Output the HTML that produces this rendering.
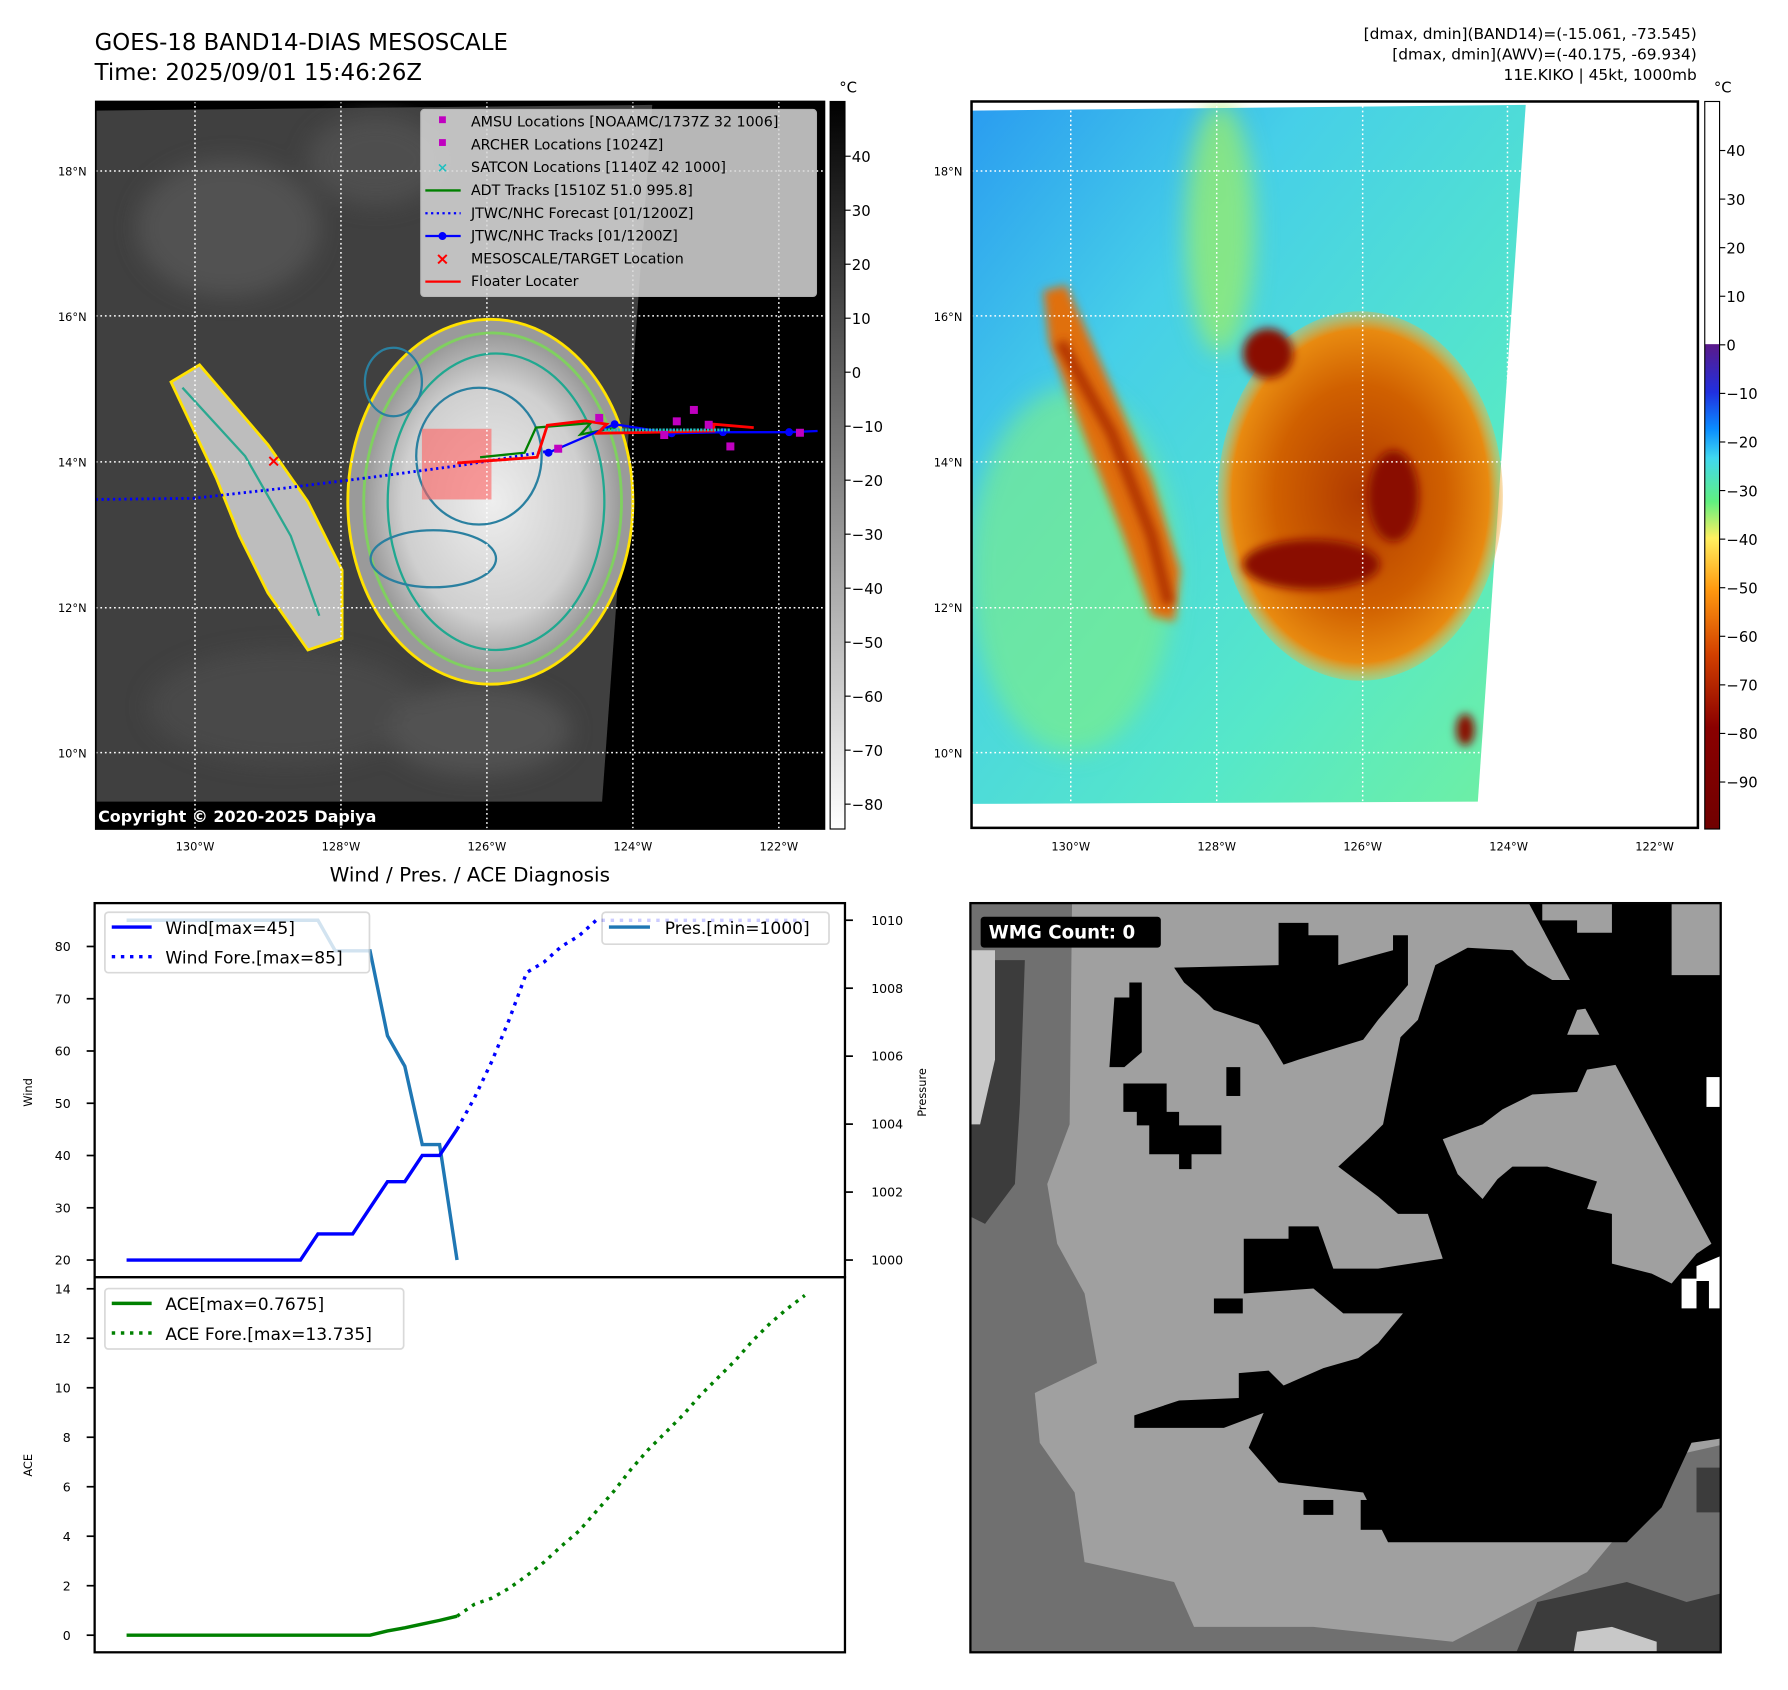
<!DOCTYPE html>
<html><head><meta charset="utf-8">
<style>
html,body{margin:0;padding:0;background:#fff;}
svg{display:block;font-family:"DejaVu Sans","Liberation Sans",sans-serif;}
</style></head>
<body>
<svg id="root" width="1788" height="1690" viewBox="0 0 1568 1482" preserveAspectRatio="xMinYMin meet" xmlns="http://www.w3.org/2000/svg">
<defs>
  <linearGradient id="gcbar" x1="0" y1="0" x2="0" y2="1">
    <stop offset="0" stop-color="#000"/><stop offset="1" stop-color="#fff"/>
  </linearGradient>
  <linearGradient id="jcbar" x1="0" y1="0" x2="0" y2="1">
    <stop offset="0" stop-color="#fff"/><stop offset="0.333" stop-color="#fff"/>
    <stop offset="0.334" stop-color="#5a1a8a"/><stop offset="0.40" stop-color="#2030e0"/>
    <stop offset="0.45" stop-color="#0a8cff"/><stop offset="0.49" stop-color="#40d8f0"/>
    <stop offset="0.55" stop-color="#60f080"/><stop offset="0.60" stop-color="#fff060"/>
    <stop offset="0.67" stop-color="#ff9a10"/><stop offset="0.76" stop-color="#d24000"/>
    <stop offset="0.86" stop-color="#8a0000"/><stop offset="1" stop-color="#700000"/>
  </linearGradient>
  <radialGradient id="cloud" cx="0.5" cy="0.5" r="0.5">
    <stop offset="0" stop-color="#eeeeee"/><stop offset="0.7" stop-color="#cfcfcf"/><stop offset="1" stop-color="#999"/>
  </radialGradient>
  <linearGradient id="skyR" x1="0" y1="0" x2="1" y2="1">
    <stop offset="0" stop-color="#2a9cf0"/><stop offset="0.3" stop-color="#46cfe8"/><stop offset="0.7" stop-color="#56e8c8"/><stop offset="1" stop-color="#70f0a0"/>
  </linearGradient>
  <radialGradient id="stormR" cx="0.5" cy="0.5" r="0.5">
    <stop offset="0" stop-color="#b03a00"/><stop offset="0.6" stop-color="#d06000"/><stop offset="0.9" stop-color="#e88a10"/><stop offset="1" stop-color="#f0b040" stop-opacity="0.4"/>
  </radialGradient>
  <filter id="blur4"><feGaussianBlur stdDeviation="4"/></filter>
  <filter id="blur10"><feGaussianBlur stdDeviation="10"/></filter>
  <clipPath id="clipL"><rect x="84" y="89" width="639" height="638"/></clipPath>
  <clipPath id="clipR"><rect x="852" y="89" width="637" height="637"/></clipPath>
  <clipPath id="clipW"><rect x="851" y="792" width="658" height="657"/></clipPath>
</defs>

<text x="83" y="44" font-size="20">GOES-18 BAND14-DIAS MESOSCALE</text>
<text x="83" y="70" font-size="20">Time: 2025/09/01 15:46:26Z</text>
<g font-size="13.5" text-anchor="end">
  <text x="1488" y="34">[dmax, dmin](BAND14)=(-15.061, -73.545)</text>
  <text x="1488" y="52">[dmax, dmin](AWV)=(-40.175, -69.934)</text>
  <text x="1488" y="70">11E.KIKO | 45kt, 1000mb</text>
</g>

<g>
  <rect x="84" y="89" width="639" height="638" fill="#000"/>
  <g clip-path="url(#clipL)">
    <polygon points="84,97 572,92 528,703 84,703" fill="#404040"/>
    <g filter="url(#blur10)" opacity="0.7">
      <ellipse cx="200" cy="200" rx="80" ry="60" fill="#5a5a5a"/>
      <ellipse cx="330" cy="140" rx="60" ry="40" fill="#555"/>
      <ellipse cx="250" cy="620" rx="120" ry="50" fill="#4d4d4d"/>
      <ellipse cx="420" cy="640" rx="80" ry="40" fill="#5a5a5a"/>
    </g>
    <polygon points="150,335 175,320 235,390 270,440 300,500 300,560 270,570 235,520 210,470 190,420" fill="#bdbdbd" stroke="#ffe200" stroke-width="2.5"/>
    <polyline points="160,340 215,400 255,470 280,540" fill="none" stroke="#2aa890" stroke-width="2"/>
    <ellipse cx="430" cy="440" rx="125" ry="160" fill="#9a9a9a" stroke="#ffe200" stroke-width="2.5"/>
    <ellipse cx="432" cy="440" rx="113" ry="148" fill="url(#cloud)" stroke="#80d060" stroke-width="2.5"/>
    <ellipse cx="435" cy="440" rx="95" ry="130" fill="none" stroke="#20a890" stroke-width="2"/>
    <ellipse cx="420" cy="400" rx="55" ry="60" fill="none" stroke="#2a80a0" stroke-width="2"/>
    <ellipse cx="380" cy="490" rx="55" ry="25" fill="none" stroke="#2a80a0" stroke-width="2"/>
    <ellipse cx="345" cy="335" rx="25" ry="30" fill="none" stroke="#2a80a0" stroke-width="2"/>
    <rect x="370" y="376" width="61" height="62" fill="#ff6060" opacity="0.6"/>
    <g stroke="#fff" stroke-width="1.3" stroke-dasharray="1.5,2.5">
      <line x1="171" y1="89" x2="171" y2="727"/><line x1="299" y1="89" x2="299" y2="727"/><line x1="427" y1="89" x2="427" y2="727"/><line x1="555" y1="89" x2="555" y2="727"/><line x1="683" y1="89" x2="683" y2="727"/>
      <line x1="84" y1="150" x2="723" y2="150"/><line x1="84" y1="277" x2="723" y2="277"/><line x1="84" y1="405" x2="723" y2="405"/><line x1="84" y1="533" x2="723" y2="533"/><line x1="84" y1="660" x2="723" y2="660"/>
    </g>
    <polyline points="84,438 170,437 250,428 330,418 405,408 485,395" fill="none" stroke="#0000ff" stroke-width="2.5" stroke-dasharray="2,3"/>
    <polyline points="421,401 460,397 470,375 518,371 509,381 540,375" fill="none" stroke="#008000" stroke-width="2"/>
    <polyline points="481,397 539,372 589,380 634,379 692,379 717,378" fill="none" stroke="#0000ff" stroke-width="2"/>
    <g fill="#0000ff"><circle cx="481" cy="397" r="3.5"/><circle cx="539" cy="372" r="3.5"/><circle cx="589" cy="380" r="3.5"/><circle cx="634" cy="379" r="3.5"/><circle cx="692" cy="379" r="3.5"/></g>
    <polyline points="401,406 471,401 480,373 513,369 532,372 524,380 626,378 626,372 661,375" fill="none" stroke="#ff0000" stroke-width="2.5"/>
    <line x1="530" y1="377" x2="640" y2="377" stroke="#20c0c0" stroke-width="2.5" stroke-dasharray="2,1"/>
    <g fill="#c000c0">
      <rect x="522" y="363" width="7" height="7"/><rect x="486" y="390" width="7" height="7"/><rect x="590" y="366" width="7" height="7"/><rect x="605" y="356" width="7" height="7"/><rect x="579" y="378" width="7" height="7"/><rect x="637" y="388" width="7" height="7"/><rect x="698" y="376" width="7" height="7"/><rect x="618" y="369" width="7" height="7"/>
    </g>
    <text x="240" y="409" font-size="15" fill="#ff0000" font-weight="bold" text-anchor="middle">×</text>
  </g>
  <rect x="84" y="89" width="639" height="638" fill="none" stroke="#000" stroke-width="1.5"/>
  <g font-size="12.5">
    <rect x="369" y="96" width="347" height="164" rx="3" fill="#d8d8d8" opacity="0.85" stroke="#ccc"/>
    <rect x="385" y="102" width="6" height="6" fill="#c000c0"/><text x="413" y="111">AMSU Locations [NOAAMC/1737Z 32 1006]</text>
    <rect x="385" y="122" width="6" height="6" fill="#c000c0"/><text x="413" y="131">ARCHER Locations [1024Z]</text>
    <text x="388" y="151" fill="#20c0c0" font-size="12" text-anchor="middle" font-weight="bold">×</text><text x="413" y="151">SATCON Locations [1140Z 42 1000]</text>
    <line x1="373" y1="167" x2="404" y2="167" stroke="#008000" stroke-width="2"/><text x="413" y="171">ADT Tracks [1510Z 51.0 995.8]</text>
    <line x1="373" y1="187" x2="404" y2="187" stroke="#0000ff" stroke-width="2" stroke-dasharray="2,3"/><text x="413" y="191">JTWC/NHC Forecast [01/1200Z]</text>
    <line x1="373" y1="207" x2="404" y2="207" stroke="#0000ff" stroke-width="2"/><circle cx="388" cy="207" r="3.5" fill="#0000ff"/><text x="413" y="211">JTWC/NHC Tracks [01/1200Z]</text>
    <text x="388" y="232" fill="#ff0000" font-size="15" text-anchor="middle" font-weight="bold">×</text><text x="413" y="231">MESOSCALE/TARGET Location</text>
    <line x1="373" y1="247" x2="404" y2="247" stroke="#ff0000" stroke-width="2"/><text x="413" y="251">Floater Locater</text>
  </g>
  <text x="86" y="721" font-size="14" font-weight="bold" fill="#fff">Copyright © 2020-2025 Dapiya</text>
</g>
<g font-size="13">
  <rect x="728" y="89" width="13" height="638" fill="url(#gcbar)" stroke="#000" stroke-width="1"/>
  <text x="736" y="81">°C</text>
  <g id="cbL"></g>
</g>

<g>
  <rect x="852" y="89" width="637" height="637" fill="#fff"/>
  <g clip-path="url(#clipR)">
    <polygon points="852,97 1338,92 1296,703 852,705" fill="url(#skyR)"/>
    <g filter="url(#blur10)">
      <ellipse cx="940" cy="500" rx="90" ry="160" fill="#80f080" opacity="0.6"/>
      <ellipse cx="1070" cy="200" rx="30" ry="110" fill="#a0f060" opacity="0.7"/>
    </g>
    <polygon points="915,255 935,250 975,340 1010,420 1035,500 1030,545 1010,540 985,470 950,380 920,300" fill="#e07010" filter="url(#blur4)"/>
    <polyline points="930,300 975,380 1010,470 1025,530" fill="none" stroke="#b03000" stroke-width="10" filter="url(#blur4)"/>
    <ellipse cx="1193" cy="435" rx="125" ry="162" fill="url(#stormR)"/>
    <g filter="url(#blur4)" fill="#8a1000">
      <ellipse cx="1112" cy="310" rx="22" ry="22"/>
      <ellipse cx="1222" cy="435" rx="22" ry="40"/>
      <ellipse cx="1150" cy="495" rx="60" ry="22"/>
      <ellipse cx="1285" cy="640" rx="8" ry="14"/>
    </g>
    <g stroke="#fff" stroke-width="1.3" stroke-dasharray="1.5,2.5">
      <line x1="939" y1="89" x2="939" y2="727"/><line x1="1067" y1="89" x2="1067" y2="727"/><line x1="1195" y1="89" x2="1195" y2="727"/><line x1="1322" y1="89" x2="1322" y2="727"/><line x1="1450" y1="89" x2="1450" y2="727"/>
      <line x1="852" y1="150" x2="1489" y2="150"/><line x1="852" y1="277" x2="1489" y2="277"/><line x1="852" y1="405" x2="1489" y2="405"/><line x1="852" y1="533" x2="1489" y2="533"/><line x1="852" y1="660" x2="1489" y2="660"/>
    </g>
  </g>
  <rect x="852" y="89" width="637" height="637" fill="none" stroke="#000" stroke-width="2.2"/>
</g>
<g font-size="13">
  <rect x="1495" y="89" width="13" height="638" fill="url(#jcbar)" stroke="#000" stroke-width="1"/>
  <text x="1503" y="81">°C</text>
  <g id="cbR"></g>
</g>
<g id="mapTicks" font-size="10"></g>

<g clip-path="url(#clipW)">
  <rect x="851" y="792" width="658" height="657" fill="#a0a0a0"/>
  <g transform="translate(846.4,785.3) scale(0.4363)">
    <polygon fill="#707070" points="0,0 215,0 210,460 165,580 185,700 240,800 265,940 140,1000 150,1100 220,1200 240,1340 420,1380 460,1470 700,1470 980,1500 1250,1360 1450,1120 1540,1100 1540,1540 0,1540"/>
    <polygon fill="#3c3c3c" points="20,130 120,130 110,420 100,580 40,660 0,640 0,470 30,300"/>
    <polygon fill="#c8c8c8" points="0,110 60,110 60,330 30,460 0,460"/>
    <polygon fill="#3c3c3c" points="1150,1420 1330,1380 1450,1420 1530,1400 1530,1540 1100,1540"/>
    <polygon fill="#c8c8c8" points="1230,1480 1300,1470 1390,1500 1390,1540 1220,1540"/>
    <polygon fill="#3c3c3c" points="1470,1150 1530,1150 1530,1240 1470,1240"/>
    <g fill="#000">
      <polygon points="1130,10 1160,10 1160,50 1230,50 1230,75 1300,75 1300,10 1420,10 1420,160 1530,160 1530,1090 1460,1100 1400,1230 1330,1300 1150,1300 970,1300 850,1300 800,1200 630,1180 570,1110 600,1040 520,1070 340,1070 340,1045 430,1015 550,1010 550,960 610,955 640,985 720,950 790,930 830,900 880,840 760,840 700,790 560,800 560,690 650,690 650,665 710,665 740,750 830,750 960,730 930,640 870,640 830,605 750,545 810,490 840,460 875,285 910,250 945,140 1010,105 1100,110 1130,140 1180,170 1260,170 1300,220 1230,230 1210,280 1300,280 1310,340 1250,350 1230,395 1140,400 1080,430 1040,460 960,490 990,560 1040,610 1070,570 1100,545 1170,545 1270,575 1250,630 1300,640 1300,740 1380,760 1420,780 1470,720 1500,700"/>
      <polygon points="420,145 630,140 630,55 690,55 690,80 750,80 750,140 860,110 860,80 890,80 890,180 830,250 800,290 670,330 640,340 610,290 590,260 500,230 470,200 440,175"/>
      <polygon points="330,175 355,175 355,315 320,345 290,345 300,205 330,205"/>
      <rect x="525" y="345" width="28" height="58"/>
      <polygon points="318,378 405,378 405,435 430,435 430,462 515,462 515,520 455,520 455,550 430,550 430,520 370,520 370,462 345,462 345,435 318,435"/>
      <rect x="500" y="810" width="58" height="30"/>
      <rect x="680" y="1215" width="60" height="30"/>
      <rect x="795" y="1215" width="90" height="60"/>
    </g>
    <g fill="#fff">
      <rect x="1490" y="365" width="40" height="60"/>
      <polygon points="1440,770 1470,770 1470,745 1530,720 1530,830 1495,830 1495,775 1470,775 1470,830 1440,830"/>
    </g>
  </g>
  <rect x="860" y="804" width="158" height="27" rx="3" fill="#000"/>
  <text x="867" y="823" font-size="16" font-weight="bold" fill="#fff">WMG Count: 0</text>
</g>
<rect x="851" y="792" width="658" height="657" fill="none" stroke="#000" stroke-width="2"/>

<text x="412" y="773" font-size="17.5" text-anchor="middle">Wind / Pres. / ACE Diagnosis</text>
<g id="chart"></g>
<rect x="83" y="792" width="658" height="328" fill="none" stroke="#000" stroke-width="2"/>
<rect x="83" y="1120" width="658" height="329" fill="none" stroke="#000" stroke-width="2"/>
<g font-size="15">
  <rect x="92" y="800" width="232" height="53" rx="3" fill="#fff" opacity="0.8" stroke="#d0d0d0" stroke-width="1.5"/>
  <line x1="98" y1="813" x2="133" y2="813" stroke="#0000ff" stroke-width="3"/><text x="145" y="819">Wind[max=45]</text>
  <line x1="98" y1="839" x2="133" y2="839" stroke="#0000ff" stroke-width="3" stroke-dasharray="3,5"/><text x="145" y="845">Wind Fore.[max=85]</text>
</g>
<g font-size="15">
  <rect x="528" y="800" width="199" height="28" rx="3" fill="#fff" opacity="0.8" stroke="#d0d0d0" stroke-width="1.5"/>
  <line x1="534" y1="813" x2="570" y2="813" stroke="#1f77b4" stroke-width="3"/><text x="583" y="819">Pres.[min=1000]</text>
</g>
<g font-size="15">
  <rect x="92" y="1130" width="262" height="53" rx="3" fill="#fff" opacity="0.8" stroke="#d0d0d0" stroke-width="1.5"/>
  <line x1="98" y1="1143" x2="133" y2="1143" stroke="#008000" stroke-width="3"/><text x="145" y="1149">ACE[max=0.7675]</text>
  <line x1="98" y1="1169" x2="133" y2="1169" stroke="#008000" stroke-width="3" stroke-dasharray="3,5"/><text x="145" y="1175">ACE Fore.[max=13.735]</text>
</g>

<script>
const windObs = [20,20,20,20,20,20,20,20,20,20,20,25,25,25,30,35,35,40,40,45];
const windFore = [45,51,58,66,75,77,80,82,85,85,85,85,85,85,85,85,85,85,85,85,85];
const presObs = [1010,1010,1010,1010,1010,1010,1010,1010,1010,1010,1010,1010,1009.1,1009.1,1009.1,1006.6,1005.7,1003.4,1003.4,1000];
const aceObs = [0,0,0,0,0,0,0,0,0,0,0,0,0,0,0,0.17,0.3,0.45,0.6,0.7675];
const aceFore = [0.7675,1.25,1.5,1.9,2.4,2.95,3.6,4.2,5.0,5.8,6.7,7.5,8.2,8.9,9.7,10.4,11.1,11.9,12.6,13.2,13.735];
const windTicks = [20,30,40,50,60,70,80];
const presTicks = [1000,1002,1004,1006,1008,1010];
const aceTicks = [0,2,4,6,8,10,12,14];
const irTicks = [40,30,20,10,0,-10,-20,-30,-40,-50,-60,-70,-80];
const awvTicks = [40,30,20,10,0,-10,-20,-30,-40,-50,-60,-70,-80,-90];
const latTicks = ['18°N','16°N','14°N','12°N','10°N'];
const lonTicks = ['130°W','128°W','126°W','124°W','122°W'];

const NS='http://www.w3.org/2000/svg';
const xS = i => 111 + i*15.25;
const yW = v => 1105 - (v-20)*4.583;
const yP = v => 1105 - (v-1000)*29.8;
const yA = v => 1434 - v*21.7;
const yIR = v => 137 + (40-v)*4.735;
const yAWV = v => 132 + (40-v)*4.26;
const yLat = i => 150 + i*127.6;
const xLon = i => 171 + i*128;

function mk(tag, attrs, parent){
  const e=document.createElementNS(NS,tag);
  for(const k in attrs) e.setAttribute(k,attrs[k]);
  parent.appendChild(e); return e;
}
const chart=document.getElementById('chart');
function pts(arr, off, yf){ return arr.map((v,i)=>xS(i+off).toFixed(1)+','+yf(v).toFixed(1)).join(' '); }

let e;
e=mk('polyline',{points:pts(presObs,0,yP),fill:'none',stroke:'#1f77b4','stroke-width':3},chart);


e=mk('polyline',{points:pts(windObs,0,yW),fill:'none',stroke:'#0000ff','stroke-width':3},chart);


e=mk('polyline',{points:pts(windFore,19,yW),fill:'none',stroke:'#0000ff','stroke-width':3,'stroke-dasharray':'3,5'},chart);


e=mk('polyline',{points:pts(aceObs,0,yA),fill:'none',stroke:'#008000','stroke-width':3},chart);


e=mk('polyline',{points:pts(aceFore,19,yA),fill:'none',stroke:'#008000','stroke-width':3,'stroke-dasharray':'3,5'},chart);



windTicks.forEach(v=>{
  const g=mk('g',{},chart);
  
  
  mk('line',{x1:76,x2:83,y1:yW(v),y2:yW(v),stroke:'#000','stroke-width':1.5},g);
  const t=mk('text',{x:62,y:yW(v)+4,'font-size':11,'text-anchor':'end'},g); t.textContent=v;
});
presTicks.forEach(v=>{
  const g=mk('g',{},chart);
  
  
  mk('line',{x1:741,x2:748,y1:yP(v),y2:yP(v),stroke:'#000','stroke-width':1.5},g);
  const t=mk('text',{x:764,y:yP(v)+4,'font-size':11},g); t.textContent=v;
});
aceTicks.forEach(v=>{
  const g=mk('g',{},chart);
  
  
  mk('line',{x1:76,x2:83,y1:yA(v),y2:yA(v),stroke:'#000','stroke-width':1.5},g);
  const t=mk('text',{x:62,y:yA(v)+4,'font-size':11,'text-anchor':'end'},g); t.textContent=v;
});
[['Wind',28,958,'wind-axis-title'],['Pressure',812,958,'pressure-axis-title'],['ACE',28,1285,'ace-axis-title']].forEach(a=>{
  const t=mk('text',{x:a[1],y:a[2],'font-size':10,'text-anchor':'middle',transform:'rotate(-90 '+a[1]+' '+a[2]+')'},chart);
  t.textContent=a[0];
  
  
});

const cbL=document.getElementById('cbL'), cbR=document.getElementById('cbR');
irTicks.forEach(v=>{
  mk('line',{x1:741,x2:746,y1:yIR(v),y2:yIR(v),stroke:'#000'},cbL);
  const t=mk('text',{x:747,y:yIR(v)+5,'font-size':13},cbL); t.textContent=v===0?'0':(v<0?'\u2212'+(-v):v);
  
  
});
awvTicks.forEach(v=>{
  mk('line',{x1:1508,x2:1513,y1:yAWV(v),y2:yAWV(v),stroke:'#000'},cbR);
  const t=mk('text',{x:1514,y:yAWV(v)+5,'font-size':13},cbR); t.textContent=v===0?'0':(v<0?'\u2212'+(-v):v);
  
  
});
const mt=document.getElementById('mapTicks');
[[76,0],[844,768]].forEach(p=>{
  latTicks.forEach((s,i)=>{
    const t=mk('text',{x:p[0],y:yLat(i)+4,'text-anchor':'end'},mt); t.textContent=s;
    
    
  });
  lonTicks.forEach((s,i)=>{
    const t=mk('text',{x:xLon(i)+p[1],y:746,'text-anchor':'middle'},mt); t.textContent=s;
    
    
  });
});
</script>
</svg>
</body></html>
